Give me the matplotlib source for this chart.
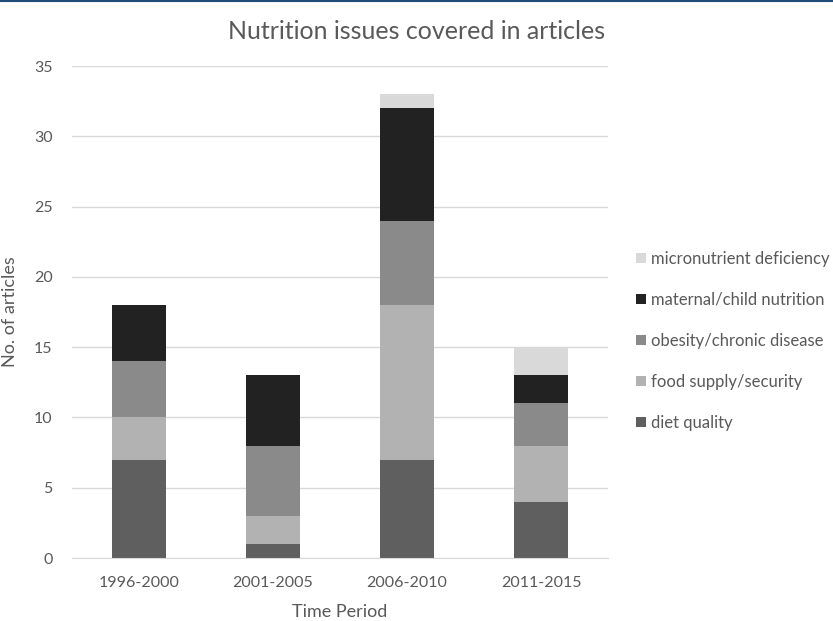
import numpy as np
import matplotlib
matplotlib.use("Agg")
import matplotlib.pyplot as plt
from matplotlib.lines import Line2D

periods = ["1996-2000", "2001-2005", "2006-2010", "2011-2015"]
diet_quality = [7, 1, 7, 4]
food_supply = [3, 2, 11, 4]
obesity = [4, 5, 6, 3]
maternal_child = [4, 5, 8, 2]
micronutrient = [0, 0, 1, 2]

series = [
    ("diet quality", diet_quality, "#5f5f5f"),
    ("food supply/security", food_supply, "#b2b2b2"),
    ("obesity/chronic disease", obesity, "#8a8a8a"),
    ("maternal/child nutrition", maternal_child, "#222222"),
    ("micronutrient deficiency", micronutrient, "#d9d9d9"),
]

plt.rcParams["font.family"] = ["Lato", "DejaVu Sans"]
txt = "#595959"

fig = plt.figure(figsize=(8.33, 6.21), dpi=100)
ax = fig.add_axes([0.0864, 0.1014, 0.6435, 0.7923])

x = np.arange(len(periods))
bottom = np.zeros(len(periods))
for name, vals, col in series:
    ax.bar(x, vals, 0.4, bottom=bottom, color=col, zorder=3, label=name)
    bottom += np.array(vals)

ax.set_xlim(-0.5, len(periods) - 0.5)
ax.set_ylim(0, 35)
ax.set_yticks(range(0, 36, 5))
ax.set_xticks(x)
ax.set_xticklabels(periods)
ax.yaxis.grid(True, color="#d9d9d9", linewidth=1, zorder=0)
for s in ["top", "right", "left"]:
    ax.spines[s].set_visible(False)
ax.spines["bottom"].set_color("#d9d9d9")
ax.spines["bottom"].set_zorder(4)
ax.tick_params(length=0, colors=txt, labelsize=11.5, pad=13)
ax.tick_params(axis="y", pad=14)

ax.set_xlabel("Time Period", color=txt, fontsize=13, labelpad=10)
ax.set_ylabel("No. of articles", color=txt, fontsize=13)
ax.yaxis.set_label_coords(-0.1, 0.5)
fig.suptitle("Nutrition issues covered in articles", x=0.5, y=0.968,
             color=txt, fontsize=18)

h, l = ax.get_legend_handles_labels()
leg = fig.legend(h[::-1], l[::-1], loc="center left", bbox_to_anchor=(0.764, 0.451),
                 frameon=False, fontsize=12, labelcolor=txt, handlelength=0.6,
                 handleheight=0.6, handletextpad=0.3, labelspacing=1.5,
                 borderpad=0, borderaxespad=0)

# thin dark line across the top of the image
fig.add_artist(Line2D([0, 1], [0.999, 0.999], transform=fig.transFigure,
                      color="#1f4e79", linewidth=1.5))

fig.savefig("out.png", dpi=100)
